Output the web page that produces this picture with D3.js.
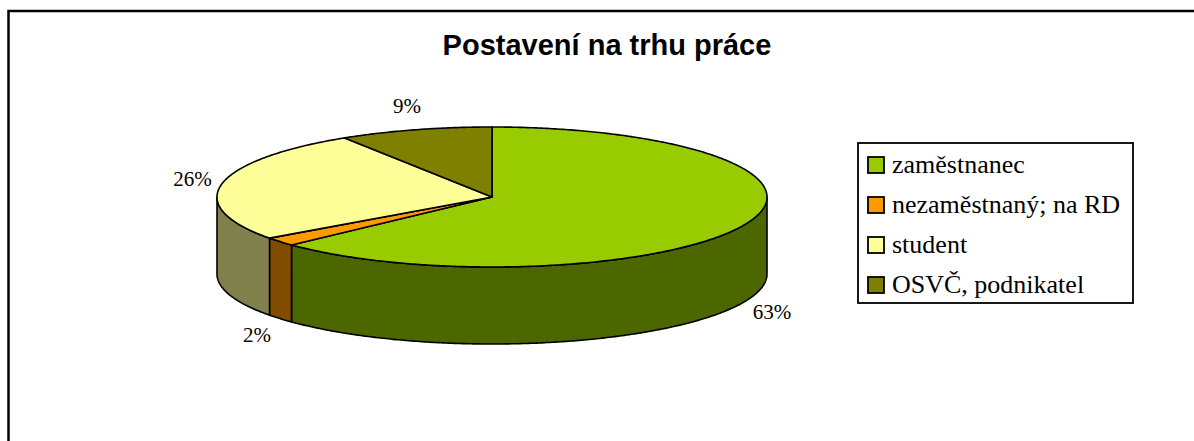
<!DOCTYPE html>
<html>
<head>
<meta charset="utf-8">
<script src="https://cdn.jsdelivr.net/npm/d3@7"></script>
<style>
  body { margin: 0; background: #fff; }
  svg { display: block; }
</style>
</head>
<body>
<div id="chart"></div>
<script>
var width  = 1194;
var height = 441;

// Data
var categories = ["zaměstnanec", "nezaměstnaný; na RD", "student", "OSVČ, podnikatel"];
var values     = [63, 2, 26, 9];
var topColors  = ["#99CC00", "#FF9900", "#FFFF99", "#808000"];
var sideColors = ["#4C6600", "#804C00", "#80804C", "#404000"];

var serif = "'Liberation Serif', 'Times New Roman', serif";

// Pie geometry (ellipse of the top face, wall depth)
var p = { cx: 492, cy: 197, rx: 275, ry: 70, depth: 77 };

var svg = d3.select("#chart")
  .append("svg")
  .attr("width", width)
  .attr("height", height);

// chart frame (runs off the picture at right and bottom)
svg.append("rect")
  .attr("x", 8.5).attr("y", 11)
  .attr("width", 1210).attr("height", 460)
  .attr("fill", "#fff")
  .attr("stroke", "#000")
  .attr("stroke-width", 2.5);

svg.append("text")
  .attr("x", 607).attr("y", 55)
  .attr("text-anchor", "middle")
  .attr("font-family", "'Liberation Sans', Arial, sans-serif")
  .attr("font-weight", "bold")
  .attr("font-size", 29)
  .text("Postavení na trhu práce");

var pie = d3.pie().sort(null).value(function(d) { return d; });
var arcs = pie(values);

// point on the ellipse for an angle measured clockwise from 12 o'clock
function pt(a, dy) {
  return [p.cx + p.rx * Math.sin(a), p.cy - p.ry * Math.cos(a) + (dy || 0)];
}

function arcPoints(a0, a1, dy) {
  var n = Math.max(2, Math.ceil(Math.abs(a1 - a0) / 0.01));
  return d3.range(n + 1).map(function(i) {
    return pt(a0 + (a1 - a0) * i / n, dy);
  });
}

var line = d3.line();

// Walls: only the front half of the ellipse (angles between PI/2 and 3PI/2)
var walls = svg.append("g");
arcs.forEach(function(d, i) {
  var a0 = Math.max(d.startAngle, Math.PI / 2);
  var a1 = Math.min(d.endAngle, 3 * Math.PI / 2);
  if (a1 <= a0) return;
  var pts = arcPoints(a0, a1, 0).concat(arcPoints(a1, a0, p.depth));
  walls.append("path")
    .attr("d", line(pts) + "Z")
    .attr("fill", sideColors[i])
    .attr("stroke", "#000")
    .attr("stroke-width", 1.6)
    .attr("stroke-linejoin", "round");
});

// Top faces
var tops = svg.append("g");
arcs.forEach(function(d, i) {
  var pts = [[p.cx, p.cy]].concat(arcPoints(d.startAngle, d.endAngle, 0));
  tops.append("path")
    .attr("d", line(pts) + "Z")
    .attr("fill", topColors[i])
    .attr("stroke", "#000")
    .attr("stroke-width", 1.6)
    .attr("stroke-linejoin", "round");
});

// Percentage labels outside the pie
var labelR = { x: p.rx + 30, y: p.ry + 25 };
svg.append("g").selectAll("text")
  .data(arcs)
  .enter()
  .append("text")
  .attr("x", function(d) {
    var a = (d.startAngle + d.endAngle) / 2;
    return p.cx + labelR.x * Math.sin(a);
  })
  .attr("y", function(d) {
    var a = (d.startAngle + d.endAngle) / 2;
    var c = Math.cos(a);
    return p.cy - labelR.y * c + (c < 0 ? p.depth : 0);
  })
  .attr("text-anchor", "middle")
  .attr("dominant-baseline", "central")
  .attr("font-family", serif)
  .attr("font-size", 21)
  .text(function(d) { return d3.format(".0%")(d.value / d3.sum(values)); });

// Legend
var legend = svg.append("g").attr("transform", "translate(858,143)");
legend.append("rect")
  .attr("width", 275).attr("height", 160)
  .attr("fill", "#fff")
  .attr("stroke", "#000")
  .attr("stroke-width", 1.8);

var items = legend.selectAll("g.item")
  .data(categories)
  .enter()
  .append("g")
  .attr("class", "item")
  .attr("transform", function(d, i) { return "translate(0," + (22 + i * 40) + ")"; });

items.append("rect")
  .attr("x", 10).attr("y", -8).attr("width", 16).attr("height", 16)
  .attr("fill", function(d, i) { return topColors[i]; })
  .attr("stroke", "#000")
  .attr("stroke-width", 1.8);

items.append("text")
  .attr("x", 34).attr("y", 8)
  .attr("font-family", serif)
  .attr("font-size", 26)
  .text(function(d) { return d; });
</script>
</body>
</html>
